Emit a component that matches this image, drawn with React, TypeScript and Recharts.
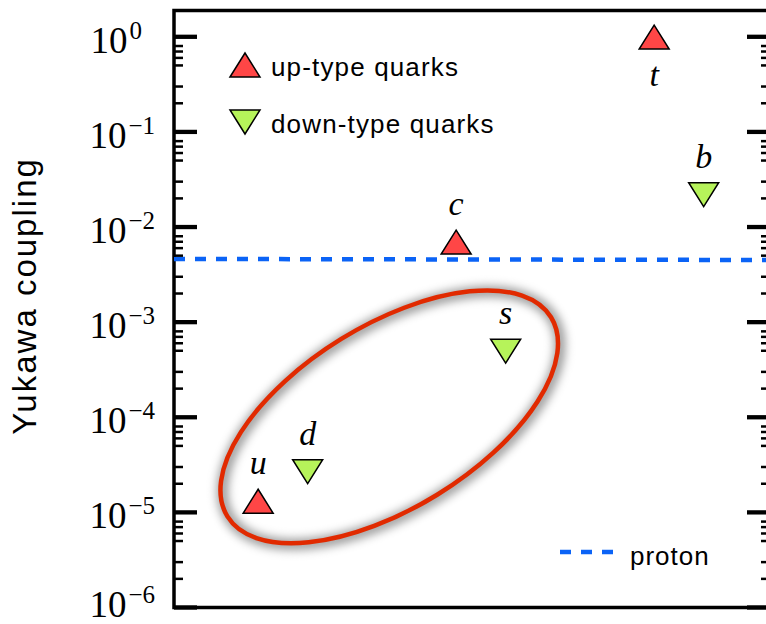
import React from 'react';
import {
  ScatterChart,
  Scatter,
  XAxis,
  YAxis,
  ReferenceArea,
  ReferenceLine,
  ReferenceDot,
  Legend,
} from 'recharts';

// quark Yukawa couplings
const upNames = ['u', 'c', 't'];
const upX = [0.875, 1.875, 2.875];
const upY = [1.31e-5, 6.94e-3, 0.993];

const downNames = ['d', 's', 'b'];
const downX = [1.125, 2.125, 3.125];
const downY = [2.68e-5, 4.95e-4, 2.19e-2];

const protonX = [0.45, 3.46];
const protonY = [4.62e-3, 4.5e-3];

// centre of the highlighted light-quark region
const ellipseX = 1.537;
const ellipseY = 1.01e-4;

const seriesNames = ['up-type quarks', 'down-type quarks', 'proton'];

const xDomain = [0.45, 3.46];
const yDomain = [1e-6, 1.89];
const majorExponents = [-6, -5, -4, -3, -2, -1, 0];
const minorMultipliers = [2, 3, 5, 6, 7, 8];

const UP_COLOR = '#ff4646';
const DOWN_COLOR = '#b6f35a';
const PROTON_COLOR = '#0b63f6';
const RING_COLOR = '#e12a00';

const upData = upNames.map((name, i) => ({ name, x: upX[i], y: upY[i] }));
const downData = downNames.map((name, i) => ({ name, x: downX[i], y: downY[i] }));

const majorTicks = majorExponents.map((e) => Number(`1e${e}`));
const minorTicks = majorExponents
  .slice(0, -1)
  .flatMap((e) => minorMultipliers.map((m) => Number(`${m}e${e}`)));
const yTicks = [...majorTicks, ...minorTicks].sort((a, b) => a - b);

const serif = '"Liberation Serif", "Times New Roman", serif';
const sans = '"Liberation Sans", Arial, sans-serif';

const isMajor = (v: number) => {
  const lg = Math.log10(v);
  return Math.abs(lg - Math.round(lg)) < 1e-6;
};

const LeftTick = (props: any) => {
  const { x, y, payload } = props;
  const v = payload.value;
  if (!isMajor(v)) {
    return <line x1={x} x2={x + 9} y1={y} y2={y} stroke="#000" strokeWidth={2.5} />;
  }
  const e = Math.round(Math.log10(v));
  const sup = e < 0 ? `\u2212${-e}` : `${e}`;
  // lowest label sits on the bottom edge, nudge it up so it stays in frame
  const dy = e === majorExponents[0] ? 9 : 16;
  return (
    <g>
      <line x1={x} x2={x + 23} y1={y} y2={y} stroke="#000" strokeWidth={4.3} />
      <text
        x={x - 19 - (e >= 0 ? 13 : 0)}
        y={y + dy}
        textAnchor="end"
        fontFamily={serif}
        fontSize={37}
        fill="#000"
      >
        10
        <tspan dx={2} dy={-14} fontSize={25}>
          {sup}
        </tspan>
      </text>
    </g>
  );
};

const RightTick = (props: any) => {
  const { x, y, payload } = props;
  const major = isMajor(payload.value);
  return (
    <line
      x1={x}
      x2={x - (major ? 23 : 9)}
      y1={y}
      y2={y}
      stroke="#000"
      strokeWidth={major ? 4.3 : 2.5}
    />
  );
};

const QuarkLabel = ({ cx, cy, name }: { cx: number; cy: number; name: string }) => (
  <text
    x={cx}
    y={name === 't' ? cy + 49 : cy - 27}
    textAnchor="middle"
    fontFamily={serif}
    fontStyle="italic"
    fontSize={34}
    fill="#000"
  >
    {name}
  </text>
);

const UpMarker = (props: any) => {
  const { cx, cy, payload } = props;
  return (
    <g>
      <polygon
        points={`${cx},${cy - 12} ${cx - 15},${cy + 12} ${cx + 15},${cy + 12}`}
        fill={UP_COLOR}
        stroke="#000"
        strokeWidth={1.5}
      />
      <QuarkLabel cx={cx} cy={cy} name={payload.name} />
    </g>
  );
};

const DownMarker = (props: any) => {
  const { cx, cy, payload } = props;
  return (
    <g>
      <polygon
        points={`${cx - 15},${cy - 12} ${cx + 15},${cy - 12} ${cx},${cy + 12}`}
        fill={DOWN_COLOR}
        stroke="#000"
        strokeWidth={1.5}
      />
      <QuarkLabel cx={cx} cy={cy} name={payload.name} />
    </g>
  );
};

const EllipseShape = (props: any) => {
  const { cx, cy } = props;
  return (
    <g transform={`rotate(-31.6 ${cx} ${cy})`}>
      <defs>
        <filter id="ringShadow" x="-20%" y="-40%" width="140%" height="180%">
          <feGaussianBlur stdDeviation="5" />
        </filter>
      </defs>
      <ellipse
        cx={cx + 1}
        cy={cy + 2}
        rx={190}
        ry={91.5}
        fill="none"
        stroke="#000"
        strokeOpacity={0.4}
        strokeWidth={11}
        filter="url(#ringShadow)"
      />
      <ellipse cx={cx} cy={cy} rx={190} ry={91.5} fill="none" stroke={RING_COLOR} strokeWidth={4.5} />
    </g>
  );
};

const LegendBox = () => (
  <svg
    width={766}
    height={624}
    style={{ position: 'absolute', left: 0, top: 0, overflow: 'visible', pointerEvents: 'none' }}
  >
    <polygon points="230,77 245,53 260,77" fill={UP_COLOR} stroke="#000" strokeWidth={1.5} />
    <text x={271} y={76} fontFamily={sans} fontSize={26} letterSpacing={1.15} fill="#000">
      {seriesNames[0]}
    </text>
    <polygon points="230,110 260,110 245,134" fill={DOWN_COLOR} stroke="#000" strokeWidth={1.5} />
    <text x={271} y={133} fontFamily={sans} fontSize={26} letterSpacing={1.15} fill="#000">
      {seriesNames[1]}
    </text>
    <line x1={560} x2={613} y1={552} y2={552} stroke={PROTON_COLOR} strokeWidth={4.5} strokeDasharray="11 10" />
    <text x={630} y={565} fontFamily={sans} fontSize={26} letterSpacing={1} fill="#000">
      {seriesNames[2]}
    </text>
  </svg>
);

export default function App() {
  return (
    <div
      style={{
        position: 'fixed',
        left: 0,
        top: 0,
        width: 766,
        height: 624,
        overflow: 'hidden',
        background: '#fff',
      }}
    >
      <ScatterChart width={800} height={624} margin={{ top: 10.5, right: 20, bottom: 16.5, left: 114 }}>
        <XAxis type="number" dataKey="x" domain={xDomain} allowDataOverflow hide />
        <YAxis
          yAxisId="left"
          type="number"
          dataKey="y"
          scale="log"
          domain={yDomain}
          allowDataOverflow
          ticks={yTicks}
          interval={0}
          tick={(p: any) => <LeftTick {...p} />}
          tickLine={false}
          axisLine={false}
          tickSize={0}
          tickMargin={0}
          width={60}
          label={{
            content: () => (
              <text
                transform="translate(36,296) rotate(-90)"
                textAnchor="middle"
                fontFamily={sans}
                fontSize={33}
                letterSpacing={2}
                fill="#000"
              >
                Yukawa coupling
              </text>
            ),
          }}
        />
        <YAxis
          yAxisId="right"
          orientation="right"
          type="number"
          scale="log"
          domain={yDomain}
          allowDataOverflow
          ticks={yTicks}
          interval={0}
          tick={(p: any) => <RightTick {...p} />}
          tickLine={false}
          axisLine={false}
          tickSize={0}
          tickMargin={0}
          width={10}
        />
        <ReferenceArea
          yAxisId="left"
          x1={xDomain[0]}
          x2={xDomain[1]}
          y1={yDomain[0]}
          y2={yDomain[1]}
          fill="none"
          fillOpacity={0}
          stroke="#000"
          strokeWidth={3.5}
          strokeOpacity={1}
          ifOverflow="visible"
        />
        <ReferenceDot
          yAxisId="left"
          x={ellipseX}
          y={ellipseY}
          shape={EllipseShape}
          ifOverflow="visible"
        />
        <ReferenceLine
          yAxisId="left"
          segment={[
            { x: protonX[0], y: protonY[0] },
            { x: protonX[1], y: protonY[1] },
          ]}
          stroke={PROTON_COLOR}
          strokeWidth={4.5}
          strokeDasharray="11 10"
          ifOverflow="visible"
        />
        <Scatter
          yAxisId="left"
          name={seriesNames[0]}
          data={upData}
          dataKey="y"
          shape={UpMarker}
          isAnimationActive={false}
        />
        <Scatter
          yAxisId="left"
          name={seriesNames[1]}
          data={downData}
          dataKey="y"
          shape={DownMarker}
          isAnimationActive={false}
        />
        <Legend wrapperStyle={{ left: 0, top: 0, width: 0, height: 0 }} content={() => <LegendBox />} />
      </ScatterChart>
    </div>
  );
}
